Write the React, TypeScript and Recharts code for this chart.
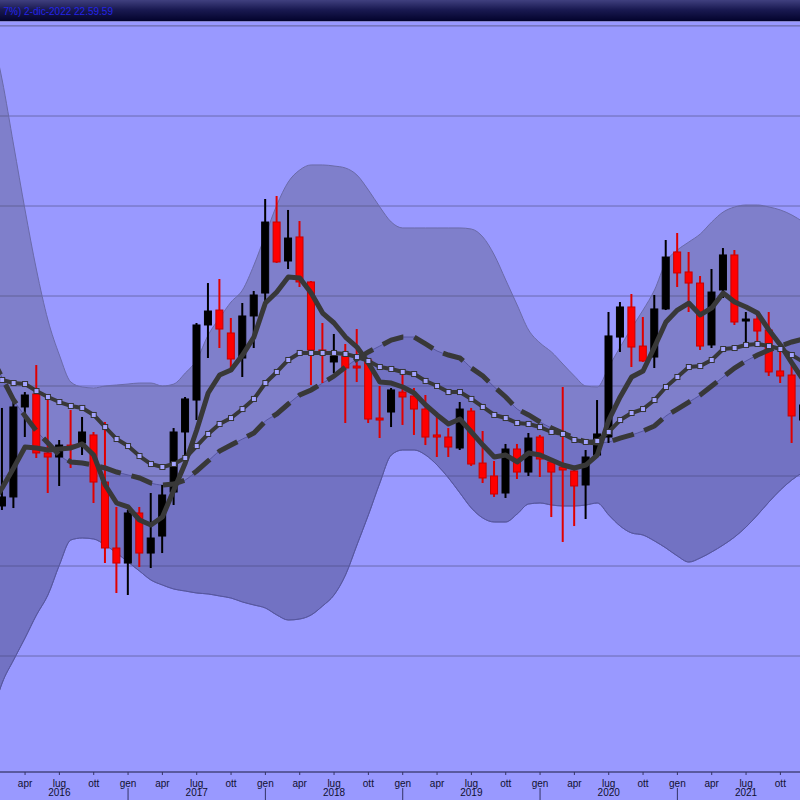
import React from 'react';
import { ComposedChart, Bar, Line, Area, XAxis, YAxis, CartesianGrid } from 'recharts';

const monthNames = ['gen', 'feb', 'mar', 'apr', 'mag', 'giu', 'lug', 'ago', 'set', 'ott', 'nov', 'dic'];
const years = [2016, 2017, 2018, 2019, 2020, 2021];
const dates = years.flatMap((y) => monthNames.map((_, m) => `${y}-${String(m + 1).padStart(2, '0')}`));

// monthly candles
const opens = [
  56.22, 46.67, 47.67, 57.67, 59.11, 52.56, 52.11, 53.44, 53.67, 54.56,
  49.33, 42.0, 40.33, 45.89, 41.44, 43.33, 48.22, 54.89, 58.44, 66.78,
  68.44, 65.89, 63.11, 67.78, 70.33, 78.22, 73.89, 76.56, 71.56, 64.0,
  62.67, 63.33, 62.22, 62.89, 56.44, 57.11, 59.33, 58.89, 57.44, 54.56,
  54.33, 53.11, 57.22, 51.44, 50.0, 48.11, 53.0, 50.44, 54.33, 51.56,
  51.0, 50.56, 49.0, 52.33, 54.33, 65.44, 68.78, 64.44, 63.22, 68.56,
  74.89, 72.67, 71.44, 64.56, 70.67, 74.56, 67.22, 67.44, 66.22, 61.67,
  61.22, 56.22,
];
const highs = [
  58.44, 57.56, 58.22, 59.33, 62.33, 58.67, 54.0, 57.33, 56.56, 54.89,
  56.0, 46.56, 46.22, 46.56, 48.11, 49.0, 55.33, 58.78, 67.0, 71.44,
  71.89, 67.56, 69.22, 70.56, 80.78, 81.11, 79.56, 78.33, 71.67, 67.0,
  65.78, 64.67, 66.33, 63.11, 60.0, 59.78, 61.44, 59.78, 59.0, 56.56,
  55.33, 58.22, 57.56, 55.0, 51.67, 53.56, 53.56, 54.78, 54.56, 51.78,
  59.89, 50.67, 52.89, 58.44, 68.22, 69.33, 70.22, 67.67, 70.11, 76.22,
  77.0, 74.89, 72.22, 73.0, 75.33, 75.11, 68.22, 68.11, 68.22, 64.33,
  62.56, 58.44,
];
const lows = [
  45.11, 46.22, 46.44, 54.33, 52.0, 48.11, 48.89, 50.89, 52.33, 47.0,
  40.33, 37.0, 36.78, 39.89, 39.78, 41.44, 46.78, 52.11, 56.22, 63.11,
  64.22, 61.78, 61.0, 64.22, 69.33, 73.67, 73.0, 71.0, 60.11, 60.33,
  61.44, 55.89, 60.44, 55.89, 54.22, 55.44, 55.67, 54.56, 53.44, 52.11,
  52.11, 52.89, 51.11, 49.22, 47.67, 47.56, 49.67, 50.0, 49.89, 45.44,
  42.67, 44.44, 45.22, 52.11, 53.67, 63.78, 62.11, 62.67, 62.0, 68.44,
  71.0, 68.22, 64.0, 64.22, 69.78, 66.78, 64.78, 64.78, 61.11, 60.33,
  53.67, 55.33,
];
const closes = [
  46.67, 47.67, 57.67, 59.0, 52.56, 52.11, 53.44, 53.11, 54.89, 49.33,
  42.0, 40.33, 45.89, 41.44, 43.11, 47.89, 54.89, 58.56, 66.78, 68.33,
  66.33, 63.0, 67.78, 70.11, 78.22, 73.78, 76.44, 71.56, 64.0, 63.67,
  63.33, 62.0, 62.0, 56.33, 56.22, 59.56, 58.78, 57.44, 54.33, 54.33,
  53.22, 57.44, 51.33, 49.78, 48.0, 53.0, 50.44, 54.22, 51.89, 50.44,
  50.67, 48.89, 52.11, 54.67, 65.56, 68.78, 64.33, 62.78, 68.56, 74.33,
  72.56, 71.44, 64.44, 70.44, 74.56, 67.11, 67.44, 66.11, 61.56, 61.11,
  56.67, 57.89,
];

// moving averages
const maShort = [
  46.78, 48.67, 50.89, 53.22, 53.11, 52.89, 53.0, 53.11, 53.56, 52.33,
  49.0, 47.0, 46.56, 45.11, 44.56, 45.44, 48.44, 51.44, 55.11, 59.22,
  61.22, 61.78, 63.44, 65.44, 69.22, 70.44, 72.11, 72.0, 70.33, 68.11,
  67.0, 65.44, 64.33, 62.56, 60.44, 60.33, 59.89, 59.22, 57.89, 56.78,
  55.78, 56.33, 54.89, 53.44, 52.11, 52.33, 51.56, 52.56, 52.33, 51.78,
  51.22, 50.89, 51.22, 52.33, 56.22, 58.78, 61.0, 61.67, 64.33, 67.11,
  68.44, 69.22, 67.89, 68.67, 70.33, 69.33, 68.78, 68.11, 66.22, 64.56,
  62.56, 60.67,
];
const maMid = [
  61.11, 60.67, 60.33, 60.22, 59.44, 58.78, 58.22, 57.78, 57.56, 56.78,
  55.44, 54.11, 53.33, 52.22, 51.33, 51.0, 51.33, 52.0, 53.33, 54.67,
  55.78, 56.44, 57.44, 58.56, 60.33, 61.56, 62.89, 63.67, 63.67, 63.67,
  63.67, 63.56, 63.22, 62.78, 62.11, 61.89, 61.56, 61.33, 60.56, 60.0,
  59.33, 59.33, 58.56, 57.67, 56.78, 56.44, 55.89, 55.78, 55.44, 54.89,
  54.67, 54.0, 53.78, 53.89, 54.89, 56.22, 57.0, 57.44, 58.44, 59.89,
  61.0, 62.11, 62.22, 62.89, 64.11, 64.22, 64.56, 64.67, 64.44, 64.11,
  63.44, 62.67,
];
const maLong = [
  63.44, 60.89, 58.44, 56.67, 55.0, 53.67, 52.33, 51.56, 51.44, 51.22,
  50.89, 50.44, 50.11, 49.78, 49.22, 49.0, 49.11, 49.56, 50.56, 51.67,
  52.78, 53.44, 54.11, 54.78, 56.11, 56.89, 58.0, 59.0, 59.56, 60.33,
  61.11, 62.11, 63.0, 63.78, 64.44, 65.11, 65.44, 65.44, 64.67, 63.89,
  63.44, 63.11, 62.0, 61.11, 59.89, 58.78, 57.44, 56.78, 56.0, 55.33,
  54.78, 54.22, 53.78, 53.67, 53.78, 54.22, 54.56, 55.0, 55.56, 56.67,
  57.44, 58.22, 59.0, 60.0, 61.0, 62.0, 62.78, 63.44, 64.0, 64.44,
  64.89, 65.22,
];

// bollinger bands
const bandUpper = [
  99.56, 94.0, 86.78, 79.56, 72.89, 67.33, 63.44, 60.44, 59.89, 59.78,
  60.0, 60.11, 60.22, 60.33, 60.33, 60.0, 60.22, 61.44, 62.89, 65.67,
  67.56, 69.33, 70.67, 73.44, 76.78, 80.11, 82.67, 84.0, 84.56, 84.56,
  84.44, 84.22, 83.44, 81.78, 79.89, 78.22, 77.56, 77.56, 77.56, 77.56,
  77.56, 77.56, 77.44, 76.56, 74.56, 71.78, 69.0, 66.22, 64.78, 63.78,
  62.44, 61.11, 60.0, 59.89, 62.11, 64.33, 66.44, 68.44, 70.67, 73.78,
  75.11, 76.0, 76.89, 78.22, 79.33, 79.89, 80.11, 80.11, 79.89, 79.56,
  79.0, 78.22,
];
const bandLower = [
  22.89, 27.0, 29.56, 32.0, 34.56, 36.78, 40.11, 42.89, 43.11, 43.0,
  42.33, 41.44, 40.44, 39.44, 38.44, 37.89, 37.44, 37.22, 37.0, 36.89,
  36.67, 36.44, 36.0, 35.67, 35.33, 34.56, 34.0, 34.11, 34.56, 35.56,
  36.78, 39.0, 42.33, 45.67, 49.22, 52.33, 52.89, 52.89, 52.33, 51.22,
  49.78, 48.11, 46.44, 45.33, 44.89, 44.89, 45.78, 46.89, 47.0, 46.78,
  46.67, 46.67, 46.78, 47.0, 45.67, 44.44, 43.67, 43.44, 42.78, 42.0,
  41.11, 40.44, 40.89, 41.56, 42.33, 43.22, 44.33, 45.67, 47.11, 48.44,
  49.56, 50.44,
];

const gridTicks = [30, 40, 50, 60, 70, 80, 90];
const priceMin = 154 / 9;
const priceMax = 100;

const data = dates.map((date, i) => ({
  date,
  open: opens[i],
  high: highs[i],
  low: lows[i],
  close: closes[i],
  range: [lows[i], highs[i]],
  band: [bandLower[i], bandUpper[i]],
  cloud: [bandLower[i], maLong[i]],
  maShort: maShort[i],
  maMid: maMid[i],
  maLong: maLong[i],
}));

const FONT = '"Liberation Sans", Arial, sans-serif';
const LINE = '#383838';

function Candle(props: any) {
  const { x, y, width, height, payload } = props;
  if (!payload || x == null) return <g />;
  const { open, high, low, close } = payload;
  const top = Math.min(y, y + height);
  const h = Math.abs(height);
  const toY = (p: number) => top + ((high - p) / (high - low)) * h;
  const cx = x + width / 2;
  const up = close >= open;
  const bodyTop = toY(Math.max(open, close));
  const bodyH = Math.max(1.5, toY(Math.min(open, close)) - bodyTop);
  return (
    <g>
      <line x1={cx} x2={cx} y1={top} y2={top + h} stroke={up ? '#000' : '#e00000'} strokeWidth={2} />
      <rect
        x={cx - 3.5}
        y={bodyTop}
        width={7}
        height={bodyH}
        fill={up ? '#000' : '#ff0000'}
        stroke={up ? '#000' : '#c80000'}
        strokeWidth={1}
      />
    </g>
  );
}

function SquareDot(props: any) {
  const { cx, cy } = props;
  if (cx == null || cy == null) return <g />;
  return <rect x={cx - 2.5} y={cy - 2.5} width={5} height={5} fill="#a4a4ff" stroke="#333" strokeWidth={1} />;
}

function MonthTick(props: any) {
  const { x, y, payload, index } = props;
  const [yy, mm] = String(payload.value).split('-');
  const m = Number(mm) - 1;
  // first month sits left of the visible window
  if (m % 3 !== 0 || index === 0) return <g />;
  return (
    <g>
      <line x1={x} x2={x} y1={y} y2={y + 3} stroke="#333366" />
      <text x={x} y={y + 14.5} textAnchor="middle" fontSize={10} fontFamily={FONT} fill="#101030">
        {monthNames[m]}
      </text>
      {m === 6 && (
        <text x={x} y={y + 24} textAnchor="middle" fontSize={10} fontFamily={FONT} fill="#101030">
          {yy}
        </text>
      )}
      {m === 0 && <line x1={x} x2={x} y1={y + 16} y2={y + 28} stroke="#333366" />}
    </g>
  );
}

export default function App() {
  return (
    <div
      style={{
        position: 'absolute',
        left: 0,
        top: 0,
        width: 800,
        height: 800,
        overflow: 'hidden',
        background: '#9999ff',
      }}
    >
      <div
        style={{
          position: 'absolute',
          left: 0,
          top: 0,
          width: 800,
          height: 21,
          background: 'linear-gradient(#40407f, #1a1a52 45%, #03032c)',
        }}
      >
        <span
          style={{
            position: 'absolute',
            right: 687,
            top: 6,
            whiteSpace: 'nowrap',
            fontFamily: FONT,
            fontSize: 10,
            lineHeight: '12px',
            color: '#2424e8',
          }}
        >
          7%) 2-dic-2022 22.59.59
        </span>
      </div>
      <div style={{ position: 'absolute', left: 0, top: 21, width: 800, height: 1, background: '#8484c8' }} />
      <div style={{ position: 'absolute', left: 0, top: 25, width: 800, height: 1, background: '#7676bc' }} />

      <div style={{ position: 'absolute', left: -14.67, top: 26 }}>
        <ComposedChart
          width={824}
          height={774}
          data={data}
          margin={{ top: 0, right: 0, bottom: 0, left: 0 }}
          barCategoryGap={0}
        >
          <CartesianGrid vertical={false} stroke="#6a6ab0" strokeWidth={1} />
          <XAxis
            dataKey="date"
            interval={0}
            tickLine={false}
            tickSize={0}
            tickMargin={0}
            height={28}
            axisLine={{ stroke: '#333366' }}
            tick={<MonthTick />}
          />
          <YAxis hide domain={[priceMin, priceMax]} ticks={gridTicks} allowDataOverflow />
          <Area
            dataKey="band"
            type="monotone"
            fill="#50506a"
            fillOpacity={0.35}
            stroke="#6a6aa8"
            strokeWidth={1}
            isAnimationActive={false}
          />
          <Area
            dataKey="cloud"
            type="monotone"
            fill="#3a3aa0"
            fillOpacity={0.18}
            stroke="#5656a0"
            strokeWidth={1}
            isAnimationActive={false}
          />
          <Bar dataKey="range" shape={(p: any) => <Candle {...p} />} isAnimationActive={false} />
          <Line
            dataKey="maLong"
            type="linear"
            stroke={LINE}
            strokeWidth={5}
            strokeDasharray="22 11"
            dot={false}
            activeDot={false}
            isAnimationActive={false}
          />
          <Line
            dataKey="maMid"
            type="linear"
            stroke={LINE}
            strokeWidth={4}
            strokeLinejoin="round"
            dot={(p: any) => <SquareDot key={`sq-${p.index}`} {...p} />}
            activeDot={false}
            isAnimationActive={false}
          />
          <Line
            dataKey="maShort"
            type="linear"
            stroke={LINE}
            strokeWidth={5}
            strokeLinejoin="round"
            dot={false}
            activeDot={false}
            isAnimationActive={false}
          />
        </ComposedChart>
      </div>
    </div>
  );
}
